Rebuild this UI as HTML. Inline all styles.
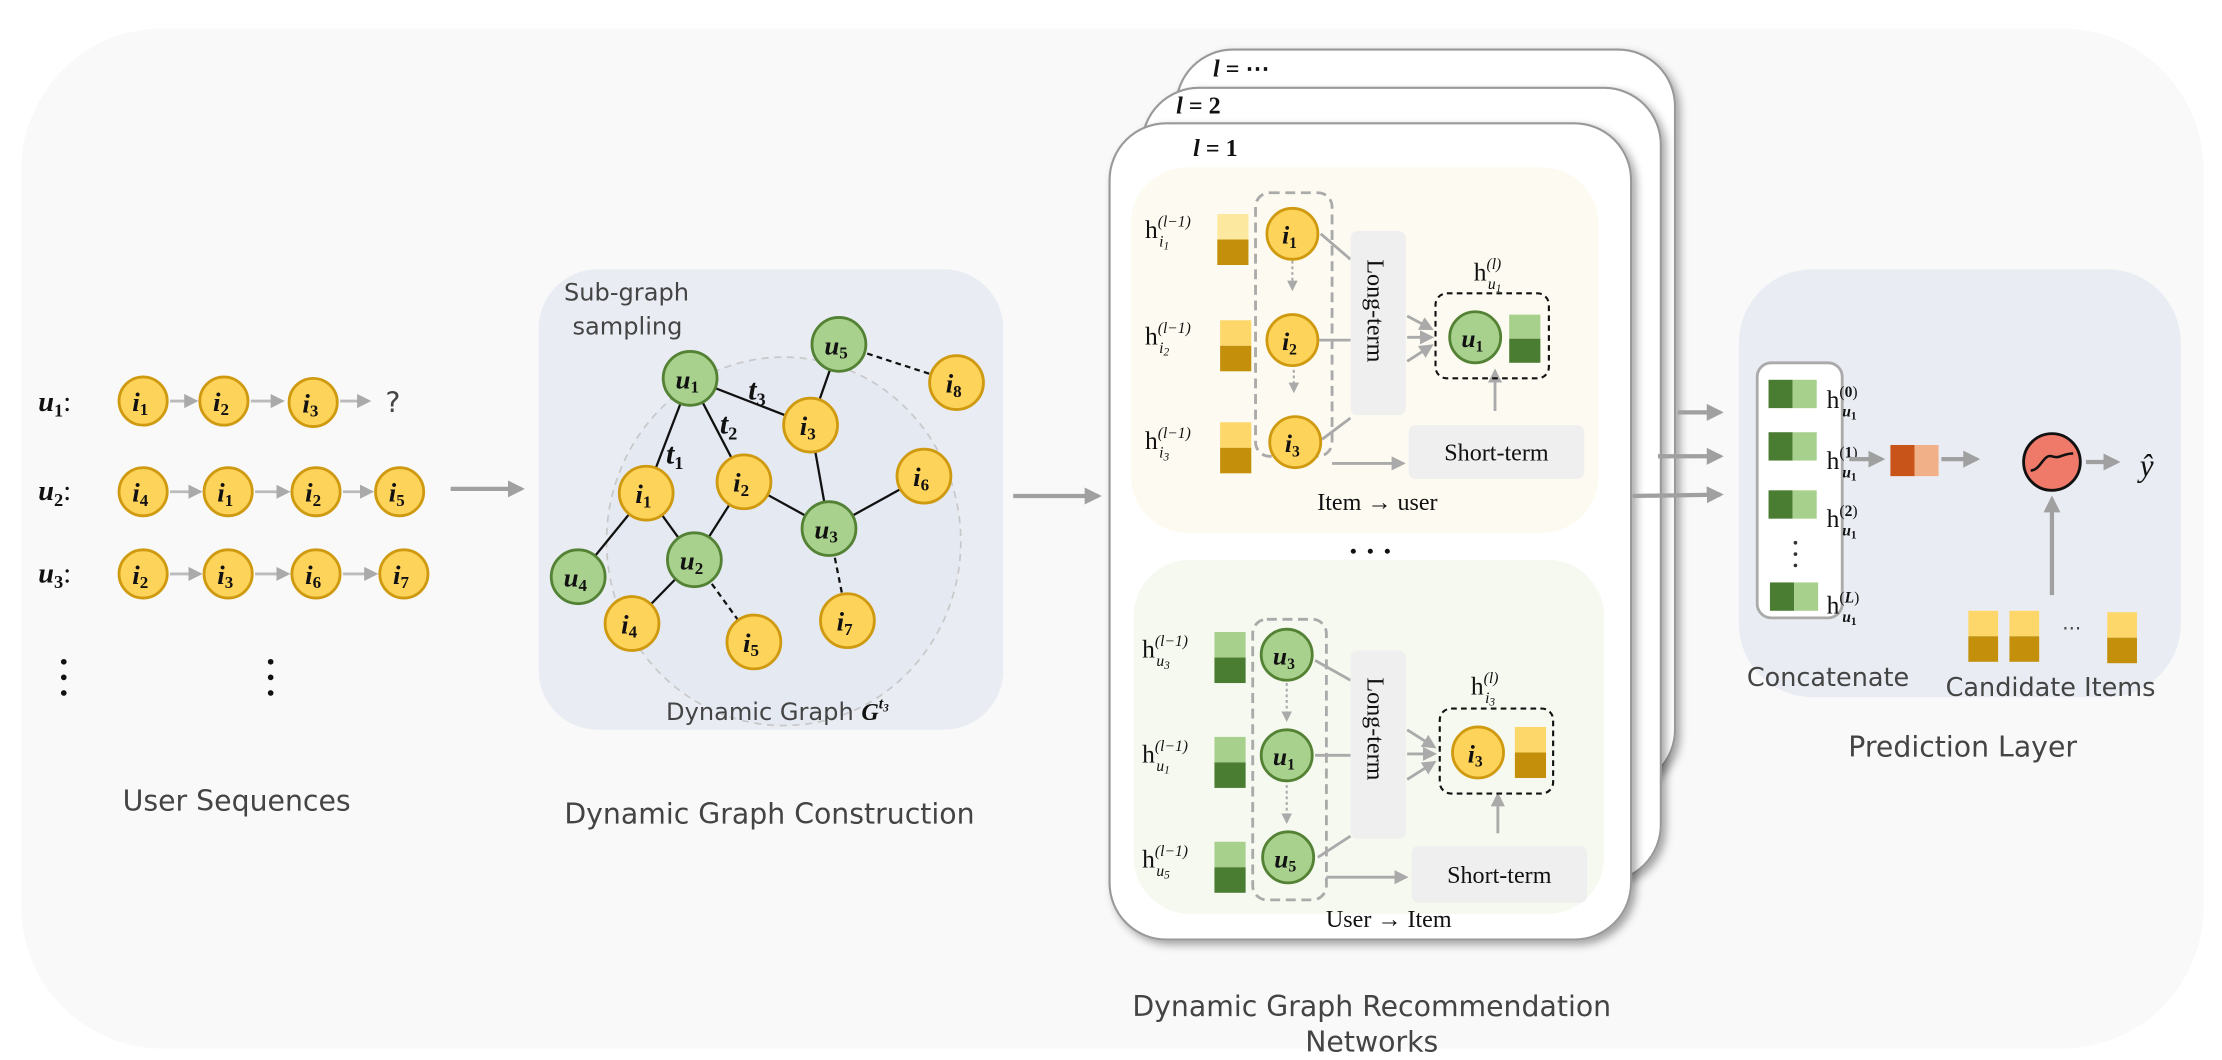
<!DOCTYPE html>
<html><head><meta charset="utf-8"><style>
html,body{margin:0;padding:0;background:#fff;width:2222px;height:1060px;overflow:hidden}
svg{display:block}
.m{font-family:"Liberation Serif",serif;font-style:italic;font-weight:bold}
.m tspan{font-style:normal}
.s{font-family:"DejaVu Sans","Liberation Sans",sans-serif;fill:#444}
.r{font-family:"Liberation Serif",serif;fill:#111}
</style></head><body>
<svg width="2222" height="1060" viewBox="0 0 1568 748" xmlns="http://www.w3.org/2000/svg">
<defs>
<marker id="ah" viewBox="0 0 10 10" refX="8" refY="5" markerWidth="4" markerHeight="4" orient="auto"><path d="M0,0 L10,5 L0,10 z" fill="#a0a0a0"/></marker>
<marker id="as" viewBox="0 0 10 10" refX="8" refY="5" markerWidth="5" markerHeight="5" orient="auto"><path d="M0,0 L10,5 L0,10 z" fill="#aaa"/></marker>
<filter id="sh" x="-5%" y="-5%" width="115%" height="115%"><feDropShadow dx="3" dy="3" stdDeviation="3" flood-color="#000" flood-opacity="0.35"/></filter>
</defs>
<rect x="15" y="20" width="1540" height="720" rx="100" fill="#f9f9f9"/>

<!-- User sequences -->
<g class="m" font-size="20" fill="#111">
<text x="27" y="290">u<tspan font-size="13" dy="4">1</tspan><tspan dy="-4" font-weight="normal">:</tspan></text>
<text x="27" y="353">u<tspan font-size="13" dy="4">2</tspan><tspan dy="-4" font-weight="normal">:</tspan></text>
<text x="27" y="411">u<tspan font-size="13" dy="4">3</tspan><tspan dy="-4" font-weight="normal">:</tspan></text>
</g>
<g stroke="#bbb" stroke-width="2" marker-end="url(#as)">
<line x1="120" y1="283" x2="138" y2="283"/><line x1="177" y1="283" x2="199" y2="283"/><line x1="240" y1="283" x2="260" y2="283"/>
<line x1="120" y1="347" x2="141" y2="347"/><line x1="180" y1="347" x2="203" y2="347"/><line x1="242" y1="347" x2="262" y2="347"/>
<line x1="120" y1="405" x2="141" y2="405"/><line x1="180" y1="405" x2="203" y2="405"/><line x1="242" y1="405" x2="265" y2="405"/>
</g>
<text x="272" y="291" class="s" font-size="20">?</text>
<g fill="#fdd35a" stroke="#cf9a10" stroke-width="2">
<circle cx="101" cy="283" r="17"/><circle cx="158" cy="283" r="17"/><circle cx="221" cy="284" r="17"/>
<circle cx="101" cy="347" r="17"/><circle cx="161" cy="347" r="17"/><circle cx="223" cy="347" r="17"/><circle cx="282" cy="347" r="17"/>
<circle cx="101" cy="405" r="17"/><circle cx="161" cy="405" r="17"/><circle cx="223" cy="405" r="17"/><circle cx="285" cy="405" r="17"/>
</g>
<g class="m" font-size="19" fill="#111" text-anchor="middle">
<text x="99" y="290">i<tspan font-size="12" dy="3">1</tspan></text><text x="156" y="290">i<tspan font-size="12" dy="3">2</tspan></text><text x="219" y="291">i<tspan font-size="12" dy="3">3</tspan></text>
<text x="99" y="354">i<tspan font-size="12" dy="3">4</tspan></text><text x="159" y="354">i<tspan font-size="12" dy="3">1</tspan></text><text x="221" y="354">i<tspan font-size="12" dy="3">2</tspan></text><text x="280" y="354">i<tspan font-size="12" dy="3">5</tspan></text>
<text x="99" y="412">i<tspan font-size="12" dy="3">2</tspan></text><text x="159" y="412">i<tspan font-size="12" dy="3">3</tspan></text><text x="221" y="412">i<tspan font-size="12" dy="3">6</tspan></text><text x="283" y="412">i<tspan font-size="12" dy="3">7</tspan></text>
</g>
<g fill="#111"><circle cx="45" cy="467" r="2"/><circle cx="45" cy="478" r="2"/><circle cx="45" cy="489" r="2"/>
<circle cx="191" cy="467" r="2"/><circle cx="191" cy="478" r="2"/><circle cx="191" cy="489" r="2"/></g>
<text x="167" y="572" class="s" font-size="20" text-anchor="middle">User Sequences</text>

<line x1="318" y1="345" x2="368" y2="345" stroke="#a0a0a0" stroke-width="3" marker-end="url(#ah)"/>

<!-- Graph panel -->
<rect x="380" y="190" width="328" height="325" rx="42" fill="#e9edf3"/>
<ellipse cx="553" cy="382" rx="125" ry="130" fill="#e4e9f2" stroke="#c8c8c8" stroke-width="1.2" stroke-dasharray="5,4"/>
<text x="398" y="212" class="s" font-size="17">Sub-graph</text>
<text x="404" y="236" class="s" font-size="17">sampling</text>
<g stroke="#111" stroke-width="1.6">
<line x1="487" y1="267" x2="456" y2="348"/><line x1="487" y1="267" x2="525" y2="340"/><line x1="487" y1="267" x2="572" y2="300"/>
<line x1="572" y1="300" x2="592" y2="243"/><line x1="572" y1="300" x2="585" y2="373"/><line x1="525" y1="340" x2="585" y2="373"/>
<line x1="585" y1="373" x2="652" y2="336"/><line x1="456" y1="348" x2="408" y2="407"/><line x1="456" y1="348" x2="490" y2="395"/>
<line x1="525" y1="340" x2="490" y2="395"/><line x1="490" y1="395" x2="446" y2="440"/>
<g stroke-dasharray="4,3"><line x1="592" y1="243" x2="675" y2="270"/><line x1="585" y1="373" x2="598" y2="438"/><line x1="490" y1="395" x2="532" y2="453"/></g>
</g>
<g class="m" font-size="21" fill="#111">
<text x="528" y="282">t<tspan font-size="13" dy="4">3</tspan></text>
<text x="508" y="306">t<tspan font-size="13" dy="4">2</tspan></text>
<text x="470" y="327">t<tspan font-size="13" dy="4">1</tspan></text>
</g>
<g fill="#a9d18e" stroke="#548235" stroke-width="2">
<circle cx="487" cy="267" r="19"/><circle cx="592" cy="243" r="19"/><circle cx="585" cy="373" r="19"/><circle cx="408" cy="407" r="19"/><circle cx="490" cy="395" r="19"/>
</g>
<g fill="#fdd35a" stroke="#cf9a10" stroke-width="2">
<circle cx="572" cy="300" r="19"/><circle cx="675" cy="270" r="19"/><circle cx="456" cy="348" r="19"/><circle cx="525" cy="340" r="19"/><circle cx="652" cy="336" r="19"/><circle cx="446" cy="440" r="19"/><circle cx="532" cy="453" r="19"/><circle cx="598" cy="438" r="19"/>
</g>
<g class="m" font-size="19" fill="#111" text-anchor="middle">
<text x="485" y="274">u<tspan font-size="12" dy="3">1</tspan></text><text x="590" y="250">u<tspan font-size="12" dy="3">5</tspan></text><text x="583" y="380">u<tspan font-size="12" dy="3">3</tspan></text><text x="406" y="414">u<tspan font-size="12" dy="3">4</tspan></text><text x="488" y="402">u<tspan font-size="12" dy="3">2</tspan></text>
<text x="570" y="307">i<tspan font-size="12" dy="3">3</tspan></text><text x="673" y="277">i<tspan font-size="12" dy="3">8</tspan></text><text x="454" y="355">i<tspan font-size="12" dy="3">1</tspan></text><text x="523" y="347">i<tspan font-size="12" dy="3">2</tspan></text><text x="650" y="343">i<tspan font-size="12" dy="3">6</tspan></text><text x="444" y="447">i<tspan font-size="12" dy="3">4</tspan></text><text x="530" y="460">i<tspan font-size="12" dy="3">5</tspan></text><text x="596" y="445">i<tspan font-size="12" dy="3">7</tspan></text>
</g>
<text x="470" y="508" class="s" font-size="17">Dynamic Graph <tspan fill="#111" font-family="Liberation Serif" font-style="italic" font-weight="bold">G</tspan><tspan fill="#111" font-family="Liberation Serif" font-style="italic" font-weight="bold" font-size="11" dy="-8">t<tspan font-size="8" dy="2">3</tspan></tspan></text>
<text x="543" y="581" class="s" font-size="20" text-anchor="middle">Dynamic Graph Construction</text>

<line x1="715" y1="350" x2="775" y2="350" stroke="#a0a0a0" stroke-width="3" marker-end="url(#ah)"/>

<!-- Stacked cards -->
<rect x="830" y="35" width="352" height="520" rx="40" fill="#fff" stroke="#999" stroke-width="1.5" filter="url(#sh)"/>
<rect x="806" y="62" width="366" height="560" rx="40" fill="#fff" stroke="#999" stroke-width="1.5" filter="url(#sh)"/>
<rect x="783" y="87" width="368" height="576" rx="40" fill="#fff" stroke="#999" stroke-width="1.5" filter="url(#sh)"/>
<g class="m" font-size="17" fill="#111">
<text x="856" y="54">l <tspan>= ⋯</tspan></text>
<text x="830" y="80">l <tspan>= 2</tspan></text>
<text x="842" y="110">l <tspan>= 1</tspan></text>
</g>
<rect x="798" y="118" width="330" height="258" rx="40" fill="#fdfbf1"/>
<rect x="800" y="395" width="332" height="250" rx="40" fill="#f6f9f0"/>

<!-- top panel -->
<g class="r" font-size="18">
<text x="808" y="168">h<tspan font-size="11" dy="-8" font-style="italic">(l−1)</tspan><tspan font-size="11" dy="14" font-style="italic" x="818">i<tspan font-size="8" dy="2">1</tspan></tspan></text>
<text x="808" y="243">h<tspan font-size="11" dy="-8" font-style="italic">(l−1)</tspan><tspan font-size="11" dy="14" font-style="italic" x="818">i<tspan font-size="8" dy="2">2</tspan></tspan></text>
<text x="808" y="317">h<tspan font-size="11" dy="-8" font-style="italic">(l−1)</tspan><tspan font-size="11" dy="14" font-style="italic" x="818">i<tspan font-size="8" dy="2">3</tspan></tspan></text>
</g>
<rect x="859" y="151" width="22" height="18" fill="#fde8a0"/><rect x="859" y="169" width="22" height="18" fill="#c4900c"/>
<rect x="861" y="226" width="22" height="18" fill="#fdd76a"/><rect x="861" y="244" width="22" height="18" fill="#c4900c"/>
<rect x="861" y="298" width="22" height="18" fill="#fdd76a"/><rect x="861" y="316" width="22" height="18" fill="#c4900c"/>
<rect x="886" y="136" width="54" height="186" rx="10" fill="none" stroke="#aaa" stroke-width="2" stroke-dasharray="7,4"/>
<g stroke="#aaa" stroke-width="1.5"><line x1="912" y1="176" x2="912" y2="204" stroke-dasharray="2,2" marker-end="url(#as)"/><line x1="913" y1="245" x2="913" y2="276" stroke-dasharray="2,2" marker-end="url(#as)"/></g>
<g stroke="#aaa" stroke-width="2">
<line x1="932" y1="165" x2="953" y2="183"/><line x1="931" y1="240" x2="953" y2="240"/><line x1="933" y1="310" x2="953" y2="295"/>
<line x1="993" y1="223" x2="1010" y2="232" marker-end="url(#as)"/><line x1="993" y1="238" x2="1010" y2="238" marker-end="url(#as)"/><line x1="993" y1="255" x2="1010" y2="244" marker-end="url(#as)"/>
<line x1="940" y1="327" x2="990" y2="327" marker-end="url(#as)"/>
<line x1="1055" y1="290" x2="1055" y2="262" marker-end="url(#as)"/>
</g>
<rect x="953" y="163" width="39" height="130" rx="5" fill="#efefef"/>
<text class="r" font-size="17" transform="translate(965,183) rotate(90)">Long-term</text>
<rect x="994" y="300" width="124" height="38" rx="5" fill="#efefef"/>
<text x="1056" y="325" class="r" font-size="17" text-anchor="middle">Short-term</text>
<rect x="1013" y="207" width="80" height="60" rx="8" fill="none" stroke="#111" stroke-width="1.5" stroke-dasharray="4,3"/>
<text x="1040" y="198" class="r" font-size="18">h<tspan font-size="11" dy="-8" font-style="italic">(l)</tspan><tspan font-size="11" dy="14" font-style="italic" x="1050">u<tspan font-size="8" dy="2">1</tspan></tspan></text>
<rect x="1065" y="222" width="22" height="17" fill="#a8d08d"/><rect x="1065" y="239" width="22" height="17" fill="#4a7d32"/>

<g fill="#fdd35a" stroke="#cf9a10" stroke-width="2">
<circle cx="912" cy="165" r="18"/><circle cx="912" cy="240" r="18"/><circle cx="914" cy="312" r="18"/>
</g>
<circle cx="1041" cy="238" r="18" fill="#a9d18e" stroke="#548235" stroke-width="2"/>
<g class="m" font-size="18" fill="#111" text-anchor="middle">
<text x="910" y="172">i<tspan font-size="11" dy="3">1</tspan></text><text x="910" y="247">i<tspan font-size="11" dy="3">2</tspan></text><text x="912" y="319">i<tspan font-size="11" dy="3">3</tspan></text>
<text x="1039" y="245">u<tspan font-size="11" dy="3">1</tspan></text>
</g>
<text x="972" y="360" class="r" font-size="17" text-anchor="middle">Item → user</text>
<g fill="#111"><circle cx="955" cy="389" r="1.8"/><circle cx="967" cy="389" r="1.8"/><circle cx="979" cy="389" r="1.8"/></g>

<!-- bottom panel -->
<g class="r" font-size="18">
<text x="806" y="464">h<tspan font-size="11" dy="-8" font-style="italic">(l−1)</tspan><tspan font-size="11" dy="14" font-style="italic" x="816">u<tspan font-size="8" dy="2">3</tspan></tspan></text>
<text x="806" y="538">h<tspan font-size="11" dy="-8" font-style="italic">(l−1)</tspan><tspan font-size="11" dy="14" font-style="italic" x="816">u<tspan font-size="8" dy="2">1</tspan></tspan></text>
<text x="806" y="612">h<tspan font-size="11" dy="-8" font-style="italic">(l−1)</tspan><tspan font-size="11" dy="14" font-style="italic" x="816">u<tspan font-size="8" dy="2">5</tspan></tspan></text>
</g>
<rect x="857" y="446" width="22" height="18" fill="#a8d08d"/><rect x="857" y="464" width="22" height="18" fill="#4a7d32"/>
<rect x="857" y="520" width="22" height="18" fill="#a8d08d"/><rect x="857" y="538" width="22" height="18" fill="#4a7d32"/>
<rect x="857" y="594" width="22" height="18" fill="#a8d08d"/><rect x="857" y="612" width="22" height="18" fill="#4a7d32"/>
<rect x="884" y="437" width="52" height="198" rx="10" fill="none" stroke="#aaa" stroke-width="2" stroke-dasharray="7,4"/>
<g stroke="#aaa" stroke-width="1.5"><line x1="908" y1="478" x2="908" y2="508" stroke-dasharray="2,2" marker-end="url(#as)"/><line x1="908" y1="550" x2="908" y2="580" stroke-dasharray="2,2" marker-end="url(#as)"/></g>
<g stroke="#aaa" stroke-width="2">
<line x1="928" y1="466" x2="953" y2="480"/><line x1="928" y1="533" x2="953" y2="533"/><line x1="930" y1="605" x2="953" y2="590"/>
<line x1="993" y1="515" x2="1012" y2="527" marker-end="url(#as)"/><line x1="993" y1="532" x2="1012" y2="532" marker-end="url(#as)"/><line x1="993" y1="550" x2="1012" y2="538" marker-end="url(#as)"/>
<line x1="936" y1="619" x2="992" y2="619" marker-end="url(#as)"/>
<line x1="1057" y1="588" x2="1057" y2="561" marker-end="url(#as)"/>
</g>
<rect x="953" y="459" width="39" height="133" rx="5" fill="#efefef"/>
<text class="r" font-size="17" transform="translate(965,478) rotate(90)">Long-term</text>
<rect x="996" y="597" width="124" height="40" rx="5" fill="#efefef"/>
<text x="1058" y="623" class="r" font-size="17" text-anchor="middle">Short-term</text>
<rect x="1016" y="500" width="80" height="60" rx="8" fill="none" stroke="#111" stroke-width="1.5" stroke-dasharray="4,3"/>
<text x="1038" y="490" class="r" font-size="18">h<tspan font-size="11" dy="-8" font-style="italic">(l)</tspan><tspan font-size="11" dy="14" font-style="italic" x="1048">i<tspan font-size="8" dy="2">3</tspan></tspan></text>
<rect x="1069" y="513" width="22" height="18" fill="#fdd76a"/><rect x="1069" y="531" width="22" height="18" fill="#c4900c"/>
<g fill="#a9d18e" stroke="#548235" stroke-width="2">
<circle cx="908" cy="462" r="18"/><circle cx="908" cy="533" r="18"/><circle cx="909" cy="605" r="18"/>
</g>
<circle cx="1043" cy="531" r="18" fill="#fdd35a" stroke="#cf9a10" stroke-width="2"/>
<g class="m" font-size="18" fill="#111" text-anchor="middle">
<text x="906" y="469">u<tspan font-size="11" dy="3">3</tspan></text><text x="906" y="540">u<tspan font-size="11" dy="3">1</tspan></text><text x="907" y="612">u<tspan font-size="11" dy="3">5</tspan></text>
<text x="1041" y="538">i<tspan font-size="11" dy="3">3</tspan></text>
</g>
<text x="980" y="654" class="r" font-size="17" text-anchor="middle">User → Item</text>

<text x="968" y="717" class="s" font-size="20" text-anchor="middle">Dynamic Graph Recommendation</text>
<text x="968" y="742" class="s" font-size="20" text-anchor="middle">Networks</text>

<!-- arrows to prediction -->
<g stroke="#a0a0a0" stroke-width="3" marker-end="url(#ah)">
<line x1="1184" y1="291" x2="1214" y2="291"/><line x1="1170" y1="322" x2="1214" y2="322"/><line x1="1152" y1="350" x2="1214" y2="349"/>
</g>

<!-- prediction layer -->
<rect x="1227" y="190" width="312" height="302" rx="52" fill="#e9edf3"/>
<rect x="1240" y="256" width="60" height="180" rx="10" fill="#fff" stroke="#aaa" stroke-width="2"/>
<g>
<rect x="1248" y="268" width="17" height="20" fill="#4a7d32"/><rect x="1265" y="268" width="17" height="20" fill="#a8d08d"/>
<rect x="1248" y="305" width="17" height="20" fill="#4a7d32"/><rect x="1265" y="305" width="17" height="20" fill="#a8d08d"/>
<rect x="1248" y="346" width="17" height="20" fill="#4a7d32"/><rect x="1265" y="346" width="17" height="20" fill="#a8d08d"/>
<rect x="1249" y="411" width="17" height="20" fill="#4a7d32"/><rect x="1266" y="411" width="17" height="20" fill="#a8d08d"/>
</g>
<g class="r" font-size="18">
<text x="1289" y="288">h<tspan font-size="11" dy="-8">(<tspan font-weight="bold">0</tspan>)</tspan><tspan font-size="11" dy="14" font-style="italic" font-weight="bold" x="1300">u<tspan font-size="8" dy="2" font-style="normal">1</tspan></tspan></text>
<text x="1289" y="331">h<tspan font-size="11" dy="-8">(<tspan font-weight="bold">1</tspan>)</tspan><tspan font-size="11" dy="14" font-style="italic" font-weight="bold" x="1300">u<tspan font-size="8" dy="2" font-style="normal">1</tspan></tspan></text>
<text x="1289" y="372">h<tspan font-size="11" dy="-8">(<tspan font-weight="bold">2</tspan>)</tspan><tspan font-size="11" dy="14" font-style="italic" font-weight="bold" x="1300">u<tspan font-size="8" dy="2" font-style="normal">1</tspan></tspan></text>
<text x="1289" y="433">h<tspan font-size="11" dy="-8">(<tspan font-style="italic" font-weight="bold">L</tspan>)</tspan><tspan font-size="11" dy="14" font-style="italic" font-weight="bold" x="1300">u<tspan font-size="8" dy="2" font-style="normal">1</tspan></tspan></text>
</g>
<g fill="#333"><circle cx="1267" cy="383" r="1.3"/><circle cx="1267" cy="391" r="1.3"/><circle cx="1267" cy="399" r="1.3"/></g>
<text x="1290" y="484" class="s" font-size="18" text-anchor="middle">Concatenate</text>
<g stroke="#a0a0a0" stroke-width="3" marker-end="url(#ah)">
<line x1="1305" y1="324" x2="1328" y2="324"/><line x1="1370" y1="324" x2="1395" y2="324"/><line x1="1472" y1="326" x2="1494" y2="326"/>
<line x1="1448" y1="420" x2="1448" y2="352"/>
</g>
<rect x="1334" y="314" width="17" height="22" fill="#c8541a"/><rect x="1351" y="314" width="17" height="22" fill="#f2b088"/>
<circle cx="1448" cy="326" r="20" fill="#f07a6a" stroke="#111" stroke-width="2"/>
<path d="M1433,332 C1440,332 1442,320 1448,322 C1454,324 1455,320 1463,320" fill="none" stroke="#111" stroke-width="1.8"/>
<text x="1510" y="336" class="r" font-size="22" font-style="italic">ŷ</text>
<g>
<rect x="1389" y="431" width="21" height="18" fill="#fdd76a"/><rect x="1389" y="449" width="21" height="18" fill="#c4900c"/>
<rect x="1418" y="431" width="21" height="18" fill="#fdd76a"/><rect x="1418" y="449" width="21" height="18" fill="#c4900c"/>
<rect x="1487" y="432" width="21" height="18" fill="#fdd76a"/><rect x="1487" y="450" width="21" height="18" fill="#c4900c"/>
</g>
<text x="1462" y="448" class="s" font-size="14" text-anchor="middle">···</text>
<text x="1447" y="491" class="s" font-size="18" text-anchor="middle">Candidate Items</text>
<text x="1385" y="534" class="s" font-size="20" text-anchor="middle">Prediction Layer</text>
</svg>
</body></html>
